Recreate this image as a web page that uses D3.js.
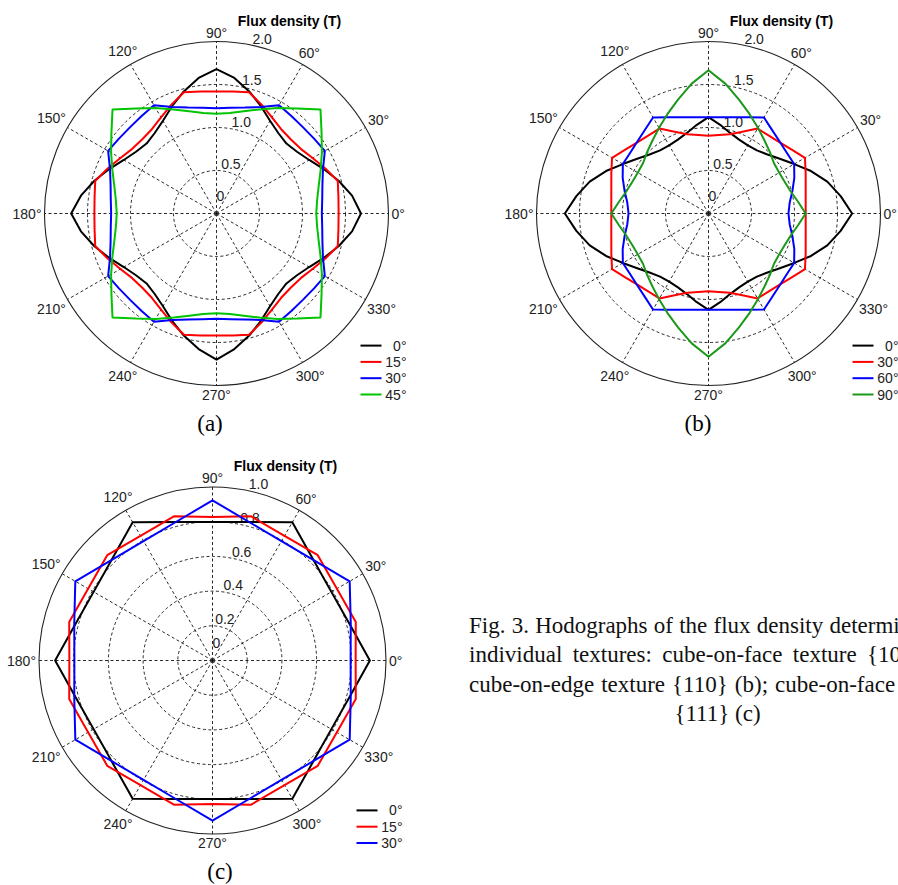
<!DOCTYPE html>
<html>
<head>
<meta charset="utf-8">
<script src="https://cdnjs.cloudflare.com/ajax/libs/d3/7.8.5/d3.min.js"></script>
<style>
  body { margin: 0; background: #fff; }
  svg { display: block; }
</style>
</head>
<body>
<svg id="fig" width="898" height="885"></svg>
<script>
// angle grid of the sampled hodographs (degrees, counter-clockwise from 0°)
const anglesAB = d3.range(0, 360, 7.5);
const anglesC = d3.range(0, 360, 15);
const angleTicks = d3.range(0, 360, 30);

// (a) cube-on-face texture {100}, flux density (T)
const faceA0 = [1.68, 1.59, 1.47, 1.35, 1.245, 1.18, 1.15, 1.18, 1.245, 1.35, 1.47, 1.59,
  1.68, 1.59, 1.47, 1.35, 1.245, 1.18, 1.15, 1.18, 1.245, 1.35, 1.47, 1.59,
  1.69, 1.59, 1.47, 1.35, 1.245, 1.18, 1.15, 1.18, 1.245, 1.35, 1.47, 1.59,
  1.70, 1.59, 1.47, 1.35, 1.245, 1.18, 1.15, 1.18, 1.245, 1.35, 1.47, 1.59];
const faceA15 = [1.42, 1.43, 1.46, 1.37, 1.29, 1.235, 1.22, 1.235, 1.29, 1.37, 1.46, 1.43,
  1.42, 1.43, 1.46, 1.37, 1.29, 1.235, 1.22, 1.235, 1.29, 1.37, 1.46, 1.43,
  1.42, 1.43, 1.46, 1.37, 1.29, 1.235, 1.22, 1.235, 1.29, 1.37, 1.46, 1.43,
  1.42, 1.43, 1.46, 1.37, 1.29, 1.235, 1.22, 1.235, 1.29, 1.37, 1.46, 1.43];
const faceA30 = [1.225, 1.24, 1.275, 1.34, 1.455, 1.43, 1.42, 1.43, 1.455, 1.34, 1.275, 1.24,
  1.225, 1.24, 1.275, 1.34, 1.455, 1.43, 1.42, 1.43, 1.455, 1.34, 1.275, 1.24,
  1.225, 1.24, 1.275, 1.34, 1.455, 1.43, 1.42, 1.43, 1.455, 1.34, 1.275, 1.24,
  1.225, 1.24, 1.275, 1.34, 1.455, 1.43, 1.42, 1.43, 1.455, 1.34, 1.275, 1.24];
const faceA45 = [1.16, 1.18, 1.23, 1.31, 1.415, 1.54, 1.71, 1.54, 1.415, 1.31, 1.23, 1.18,
  1.16, 1.18, 1.23, 1.31, 1.415, 1.54, 1.71, 1.54, 1.415, 1.31, 1.23, 1.18,
  1.16, 1.18, 1.23, 1.31, 1.415, 1.54, 1.71, 1.54, 1.415, 1.31, 1.23, 1.18,
  1.16, 1.18, 1.23, 1.31, 1.415, 1.54, 1.71, 1.54, 1.415, 1.31, 1.23, 1.18];

// (b) cube-on-edge texture {110}
const edgeB0 = [1.67, 1.55, 1.43, 1.29, 1.15, 1.045, 0.97, 0.925, 0.915, 0.93, 0.97, 1.04,
  1.12, 1.04, 0.97, 0.93, 0.915, 0.925, 0.97, 1.045, 1.15, 1.29, 1.43, 1.55,
  1.67, 1.55, 1.43, 1.29, 1.15, 1.045, 0.97, 0.925, 0.915, 0.93, 0.97, 1.04,
  1.12, 1.04, 0.97, 0.93, 0.915, 0.925, 0.97, 1.045, 1.15, 1.29, 1.43, 1.55];
const edgeB30 = [1.13, 1.14, 1.17, 1.223, 1.295, 1.22, 1.17, 1.145, 1.14, 1.03, 0.955, 0.92,
  0.905, 0.92, 0.955, 1.03, 1.14, 1.145, 1.17, 1.22, 1.295, 1.223, 1.17, 1.14,
  1.13, 1.14, 1.17, 1.223, 1.295, 1.22, 1.17, 1.145, 1.14, 1.03, 0.955, 0.92,
  0.905, 0.92, 0.955, 1.03, 1.14, 1.145, 1.17, 1.22, 1.295, 1.223, 1.17, 1.14];
const edgeB60 = [0.93, 0.952, 1.01, 1.08, 1.15, 1.152, 1.175, 1.219, 1.29, 1.212, 1.16, 1.13,
  1.12, 1.13, 1.16, 1.212, 1.29, 1.219, 1.175, 1.152, 1.15, 1.08, 1.01, 0.952,
  0.93, 0.952, 1.01, 1.08, 1.15, 1.152, 1.175, 1.219, 1.29, 1.212, 1.16, 1.13,
  1.12, 1.13, 1.16, 1.212, 1.29, 1.219, 1.175, 1.152, 1.15, 1.08, 1.01, 0.952];
const edgeB90 = [1.13, 1.05, 0.99, 0.96, 0.95, 0.96, 1.01, 1.07, 1.15, 1.25, 1.37, 1.52,
  1.665, 1.52, 1.37, 1.25, 1.15, 1.07, 1.01, 0.96, 0.95, 0.96, 0.99, 1.05,
  1.13, 1.05, 0.99, 0.96, 0.95, 0.96, 1.01, 1.07, 1.15, 1.25, 1.37, 1.52,
  1.665, 1.52, 1.37, 1.25, 1.15, 1.07, 1.01, 0.96, 0.95, 0.96, 0.99, 1.05];

// (c) texture {111}
const cubeC0 = [0.907, 0.817, 0.791, 0.822, 0.92, 0.826, 0.798, 0.826, 0.92, 0.822, 0.791, 0.817,
  0.907, 0.817, 0.791, 0.822, 0.92, 0.826, 0.798, 0.826, 0.92, 0.822, 0.791, 0.817];
const cubeC15 = [0.825, 0.855, 0.828, 0.858, 0.83, 0.86, 0.827, 0.86, 0.83, 0.858, 0.828, 0.855,
  0.825, 0.855, 0.828, 0.858, 0.83, 0.86, 0.827, 0.86, 0.83, 0.858, 0.828, 0.855];
const cubeC30 = [0.796, 0.825, 0.913, 0.821, 0.795, 0.825, 0.923, 0.825, 0.795, 0.821, 0.913, 0.825,
  0.796, 0.825, 0.913, 0.821, 0.795, 0.825, 0.923, 0.825, 0.795, 0.821, 0.913, 0.825];

const ticksAB = [0, 0.5, 1.0, 1.5, 2.0];
const ticksC = [0, 0.2, 0.4, 0.6, 0.8, 1.0];
const legendA = ['0°', '15°', '30°', '45°'];
const legendB = ['0°', '30°', '60°', '90°'];
const legendC = ['0°', '15°', '30°'];

const captionLines = [
  'Fig. 3. Hodographs of the flux density determined for',
  'individual textures: cube-on-face texture {100} (a);',
  'cube-on-edge texture {110} (b); cube-on-face texture',
  '{111} (c)'
];

const SANS = 'Liberation Sans, Arial, sans-serif';
const SERIF = 'Liberation Serif, Times New Roman, serif';

const panels = [
  { tag: '(a)', cx: 216.5, cy: 213.5, R: 172, ticks: ticksAB, angles: anglesAB, tagX: 210, tagY: 431,
    series: [faceA0, faceA15, faceA30, faceA45], colors: ['#000', '#ff0000', '#0000ff', '#00c400'], legend: legendA },
  { tag: '(b)', cx: 708.5, cy: 213.5, R: 172, ticks: ticksAB, angles: anglesAB, tagX: 698, tagY: 431,
    series: [edgeB0, edgeB30, edgeB60, edgeB90], colors: ['#000', '#ff0000', '#0000ff', '#1a981a'], legend: legendB },
  { tag: '(c)', cx: 212.5, cy: 660.5, R: 173.5, ticks: ticksC, angles: anglesC, tagX: 220, tagY: 879,
    series: [cubeC0, cubeC15, cubeC30], colors: ['#000', '#ff0000', '#0000ff'], legend: legendC }
];

const svg = d3.select('#fig');
const ang = d3.scaleLinear().domain([0, 360]).range([Math.PI / 2, Math.PI / 2 - 2 * Math.PI]);

function drawPolar(p) {
  const rMax = d3.max(p.ticks);
  const r = d3.scaleLinear().domain([0, rMax]).range([0, p.R]);
  const g = svg.append('g').attr('transform', `translate(${p.cx},${p.cy})`);

  // dashed range rings
  g.selectAll('.ring')
    .data(p.ticks.filter(t => t > 0 && t < rMax))
    .enter().append('circle')
    .attr('r', d => r(d))
    .attr('fill', 'none')
    .attr('stroke', '#111')
    .attr('stroke-width', 0.9)
    .attr('stroke-dasharray', '3,2.5');

  // spokes
  g.selectAll('.spoke')
    .data(angleTicks)
    .enter().append('line')
    .attr('x1', 0).attr('y1', 0)
    .attr('x2', d => p.R * Math.sin(ang(d)))
    .attr('y2', d => -p.R * Math.cos(ang(d)))
    .attr('stroke', '#111')
    .attr('stroke-width', 0.9)
    .attr('stroke-dasharray', '3,2.5');

  // outer ring
  g.append('circle')
    .attr('r', r(rMax))
    .attr('fill', 'none')
    .attr('stroke', '#222')
    .attr('stroke-width', 1.1);

  // angle labels
  g.selectAll('.alabel')
    .data(angleTicks)
    .enter().append('text')
    .attr('font-family', SANS)
    .attr('font-size', 14)
    .attr('fill', '#222')
    .attr('text-anchor', 'middle')
    .attr('dominant-baseline', 'central')
    .text(d => `${d}°`)
    .each(function (d) {
      const w = this.getComputedTextLength();
      const a = ang(d);
      const off = p.R + 3 + Math.abs(Math.sin(a)) * w / 2 + Math.abs(Math.cos(a)) * 6;
      d3.select(this).attr('x', off * Math.sin(a)).attr('y', -off * Math.cos(a));
    });

  // radial tick labels
  const tilt = 14 * Math.PI / 180;
  g.selectAll('.rlabel')
    .data(p.ticks)
    .enter().append('text')
    .attr('font-family', SANS)
    .attr('font-size', 14)
    .attr('fill', '#222')
    .attr('text-anchor', 'middle')
    .attr('x', d => r(d) * Math.sin(tilt) + 4)
    .attr('y', d => -Math.max(r(d), 10) * Math.cos(tilt) - 3)
    .text(d => d === 0 ? '0' : d3.format('.1f')(d));

  // axis title
  g.append('text')
    .attr('font-family', SANS)
    .attr('font-size', 14)
    .attr('font-weight', 'bold')
    .attr('text-anchor', 'middle')
    .attr('x', 73)
    .attr('y', -p.R - 16)
    .text('Flux density (T)');

  // hodographs
  p.series.forEach((vals, i) => {
    const line = d3.lineRadial()
      .angle((d, j) => ang(p.angles[j]))
      .radius(d => r(d))
      .curve(d3.curveLinearClosed);
    g.append('path')
      .datum(vals)
      .attr('d', line)
      .attr('fill', 'none')
      .attr('stroke', p.colors[i])
      .attr('stroke-width', 2)
      .attr('stroke-linejoin', 'round');
  });

  // legend, bottom-aligned at the lower right
  const n = p.legend.length;
  const leg = g.append('g');
  p.legend.forEach((lab, i) => {
    const y = p.R + 9 - (n - 1 - i) * 16.3;
    leg.append('line')
      .attr('x1', 144).attr('x2', 165)
      .attr('y1', y).attr('y2', y)
      .attr('stroke', p.colors[i])
      .attr('stroke-width', 2);
    leg.append('text')
      .attr('font-family', SANS)
      .attr('font-size', 14)
      .attr('fill', '#222')
      .attr('text-anchor', 'end')
      .attr('dominant-baseline', 'central')
      .attr('x', 190).attr('y', y)
      .text(lab);
  });

  // panel tag
  svg.append('text')
    .attr('font-family', SERIF)
    .attr('font-size', 23)
    .attr('text-anchor', 'middle')
    .attr('x', p.tagX).attr('y', p.tagY)
    .text(p.tag);
}

panels.forEach(drawPolar);

// caption, justified column (runs past the right edge as in the source page)
const capX = 469, capW = 497, capY = 633, lead = 29.4;
captionLines.forEach((txt, i) => {
  const t = svg.append('text')
    .attr('font-family', SERIF)
    .attr('font-size', 23)
    .attr('fill', '#111')
    .attr('y', capY + i * lead)
    .text(txt);
  if (i < captionLines.length - 1) {
    const natural = t.node().getComputedTextLength();
    const gaps = txt.split(' ').length - 1;
    t.attr('x', capX).attr('word-spacing', Math.max(0, (capW - natural) / gaps));
  } else {
    t.attr('x', capX + capW / 2).attr('text-anchor', 'middle');
  }
});
</script>
</body>
</html>
